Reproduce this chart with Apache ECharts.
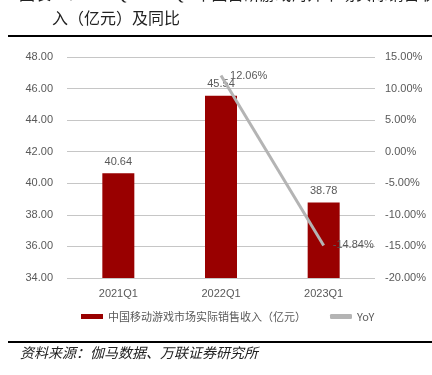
<!DOCTYPE html>
<html><head><meta charset="utf-8">
<script src="https://cdn.jsdelivr.net/npm/echarts@6/dist/echarts.min.js"></script>
<style>html,body{margin:0;padding:0;background:#fff}#c{width:432px;height:375px}</style>
</head><body><div id="c"></div>
<script>
const categories = ['2021Q1', '2022Q1', '2023Q1'];
const revenue = [40.64, 45.54, 38.78];
const yoy = [null, 12.06, -14.84];
const leftTicks = { min: 34, max: 48, interval: 2 };
const rightTicks = { min: -20, max: 15, interval: 5 };
const seriesNames = ['中国移动游戏市场实际销售收入（亿元）', 'YoY'];
const titleLine1 = '图表22：2021Q1-2023Q1 中国自研游戏海外市场实际销售收';
const titleLine2 = '入（亿元）及同比';
const sourceText = '资料来源：伽马数据、万联证券研究所';

const chart = echarts.init(document.getElementById('c'), null, { renderer: 'canvas' });
const grey = '#595959';
const cjk = '"Liberation Serif","Noto Sans CJK SC",serif';
chart.setOption({
  animation: false,
  backgroundColor: '#fff',
  grid: { left: 67, right: 57, top: 57, bottom: 97 },
  legend: {
    left: 76, top: 306, itemWidth: 22, itemHeight: 5, itemGap: 24,
    textStyle: { color: grey, fontSize: 11, fontFamily: '"Noto Sans CJK SC",sans-serif' },
    data: [
      { name: seriesNames[0], icon: 'rect' },
      { name: seriesNames[1], icon: 'roundRect', itemStyle: { color: '#b4b4b4' } }
    ]
  },
  xAxis: {
    type: 'category', data: categories,
    axisLine: { show: false }, axisTick: { show: false },
    axisLabel: { color: grey, fontSize: 11, margin: 10 }
  },
  yAxis: [
    {
      type: 'value', min: leftTicks.min, max: leftTicks.max, interval: leftTicks.interval,
      axisLine: { show: false }, axisTick: { show: false },
      axisLabel: { color: grey, fontSize: 11, margin: 14, formatter: v => v.toFixed(2) },
      splitLine: { lineStyle: { color: '#c6c6c6', width: 1 } }
    },
    {
      type: 'value', min: rightTicks.min, max: rightTicks.max, interval: rightTicks.interval,
      axisLine: { show: false }, axisTick: { show: false },
      axisLabel: { color: grey, fontSize: 11, margin: 10, formatter: v => v.toFixed(2) + '%' },
      splitLine: { show: false }
    }
  ],
  series: [
    {
      name: seriesNames[0], type: 'bar', data: revenue, barWidth: 32,
      itemStyle: { color: '#990000' },
      label: { show: true, position: 'top', distance: 6, color: grey, fontSize: 11, formatter: p => p.value.toFixed(2) }
    },
    {
      name: seriesNames[1], type: 'line', yAxisIndex: 1, data: yoy, z: 5,
      showSymbol: true, symbol: 'circle', symbolSize: 0.1, connectNulls: false,
      lineStyle: { color: '#b4b4b4', width: 3 }, itemStyle: { color: '#b4b4b4' },
      label: { show: true, position: 'right', distance: 9, color: grey, fontSize: 11,
        formatter: p => p.value == null ? '' : p.value.toFixed(2) + '%' }
    }
  ],
  graphic: [
    { type: 'text', left: 19, top: -12, style: { text: titleLine1, font: '16px ' + cjk, fill: '#222' } },
    { type: 'text', left: 52, top: 12, style: { text: titleLine2, font: '16px ' + cjk, fill: '#222' } },
    { type: 'rect', shape: { x: 8, y: 35, width: 424, height: 2 }, style: { fill: '#000' } },
    { type: 'rect', shape: { x: 8, y: 341, width: 424, height: 2 }, style: { fill: '#000' } },
    { type: 'text', left: 20, top: 347, style: { text: sourceText, font: 'italic 14px ' + cjk, fill: '#222' } }
  ]
});
</script></body></html>
